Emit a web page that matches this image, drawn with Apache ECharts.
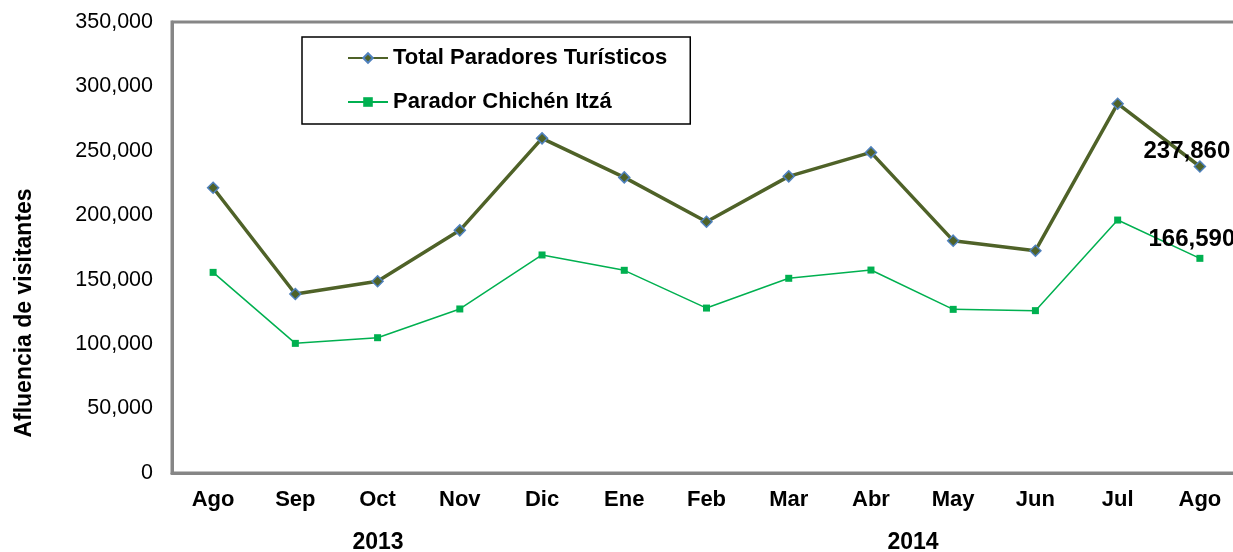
<!DOCTYPE html>
<html>
<head>
<meta charset="utf-8">
<script src="https://cdn.jsdelivr.net/npm/echarts@6/dist/echarts.min.js"></script>
<style>
  html, body { margin: 0; padding: 0; background: #fff; overflow: hidden; }
  #main { width: 1245px; height: 552px; }
</style>
</head>
<body>
<div id="main"></div>
<script>
// months Ago 2013 .. Ago 2014
var months = ['Ago', 'Sep', 'Oct', 'Nov', 'Dic', 'Ene', 'Feb', 'Mar', 'Abr', 'May', 'Jun', 'Jul', 'Ago'];
var years = ['2013', '2014'];
var totalParadores = [221400, 138900, 148800, 188300, 259700, 229400, 195000, 230200, 248800, 180300, 172500, 286600, 237860];
var chichenItza = [155700, 100600, 105000, 127300, 169200, 157300, 128000, 151100, 157500, 127000, 126000, 196300, 166590];

var font = '"Liberation Sans", Arial, sans-serif';
var chart = echarts.init(document.getElementById('main'));

function lastLabel(arr, offset) {
  // only the last point carries a label
  return arr.map(function (v, i) {
    if (i !== arr.length - 1) return v;
    return {
      value: v,
      label: {
        show: true, position: 'top', offset: offset,
        fontFamily: font, fontWeight: 'bold', fontSize: 24, color: '#000',
        formatter: function (p) { return p.value.toLocaleString('en-US'); }
      }
    };
  });
}

var option = {
  backgroundColor: '#fff',
  animation: false,
  grid: {
    left: 172, top: 22, right: 4, bottom: 79,
    show: true, borderColor: '#868686', borderWidth: 3, backgroundColor: '#fff'
  },
  legend: {
    left: 302, top: 37,
    orient: 'vertical',
    padding: [10, 23, 11, 45],
    itemGap: 22,
    itemWidth: 40, itemHeight: 12,
    borderColor: '#000', borderWidth: 1.5,
    backgroundColor: '#fff',
    textStyle: { fontFamily: font, fontWeight: 'bold', fontSize: 22, color: '#000' }
  },
  xAxis: {
    type: 'category',
    data: months,
    boundaryGap: true,
    axisLine: { show: true, lineStyle: { color: '#868686', width: 3 } },
    axisTick: { show: false },
    axisLabel: { interval: 0, margin: 16, fontFamily: font, fontWeight: 'bold', fontSize: 22, color: '#000' },
    splitLine: { show: false }
  },
  yAxis: {
    type: 'value',
    min: 0, max: 350000, interval: 50000,
    axisLine: { show: true, lineStyle: { color: '#868686', width: 3 } },
    axisTick: { show: false },
    splitLine: { show: false },
    axisLabel: {
      margin: 19, fontFamily: font, fontSize: 21.5, color: '#000',
      formatter: function (v) { return v.toLocaleString('en-US'); }
    }
  },
  graphic: [
    {
      type: 'text', x: 25, y: 313, rotation: Math.PI / 2,
      style: { text: 'Afluencia de visitantes', font: 'bold 23px ' + font, fill: '#000', align: 'center', verticalAlign: 'middle' }
    },
    { type: 'text', x: 378, y: 543, style: { text: years[0], font: 'bold 23px ' + font, fill: '#000', align: 'center', verticalAlign: 'middle' } },
    { type: 'text', x: 913, y: 543, style: { text: years[1], font: 'bold 23px ' + font, fill: '#000', align: 'center', verticalAlign: 'middle' } }
  ],
  series: [
    {
      name: 'Total Paradores Turísticos',
      type: 'line',
      data: lastLabel(totalParadores, [-13, 8]),
      symbol: 'diamond',
      symbolSize: 11,
      lineStyle: { color: '#4F6228', width: 3.5 },
      itemStyle: { color: '#4F6228', borderColor: '#4F81BD', borderWidth: 1.5 },
      z: 3
    },
    {
      name: 'Parador Chichén Itzá',
      type: 'line',
      data: lastLabel(chichenItza, [-8, 2]),
      symbol: 'rect',
      symbolSize: 7,
      lineStyle: { color: '#00B050', width: 1.5 },
      itemStyle: { color: '#00B050', borderWidth: 0 },
      z: 2
    }
  ]
};

chart.setOption(option);
</script>
</body>
</html>
